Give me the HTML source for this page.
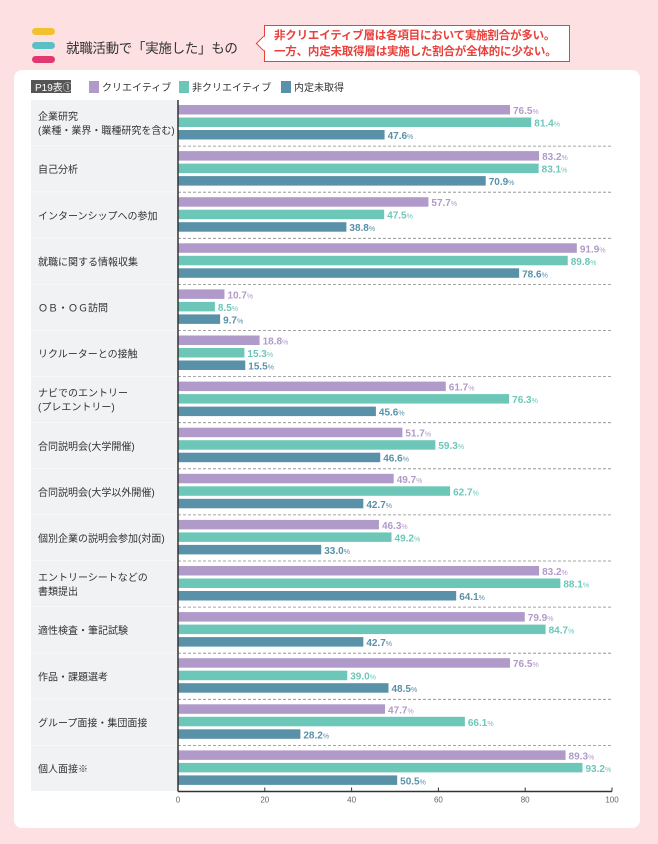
<!DOCTYPE html>
<html><head><meta charset="utf-8">
<style>
body{margin:0;width:658px;height:844px;background:#fde0e1;font-family:"Liberation Sans","Noto Sans CJK JP",sans-serif;position:relative;overflow:hidden}
.abs{position:absolute}
</style></head><body>
<div class="abs" style="left:32px;top:28px">
<div style="width:23px;height:7px;border-radius:4px;background:#f2c12e;margin-bottom:7px"></div>
<div style="width:23px;height:7px;border-radius:4px;background:#5bbfc6;margin-bottom:7px"></div>
<div style="width:23px;height:7px;border-radius:4px;background:#e0396f"></div></div>
<div class="abs" style="left:66px;top:37px;font-size:13.5px;letter-spacing:-0.3px;color:#333;white-space:nowrap">就職活動で「実施した」もの</div>
<div class="abs" style="left:264px;top:25px;width:306px;height:37px;border:1.5px solid #e8413c;background:#fff;color:#e8413c;font-weight:bold;font-size:11.5px;line-height:16px;padding:2px 0 0 9px;box-sizing:border-box;white-space:nowrap;letter-spacing:-0.2px">非クリエイティブ層は各項目において実施割合が多い。<br>一方、内定未取得層は実施した割合が全体的に少ない。</div>
<div class="abs" style="left:258px;top:38px;width:10px;height:10px;background:#fff;border-left:1.5px solid #e8413c;border-bottom:1.5px solid #e8413c;transform:rotate(45deg)"></div>
<div class="abs" style="left:14px;top:70px;width:626px;height:758px;background:#fff;border-radius:8px"></div>
<svg class="abs" style="left:0;top:0" width="658" height="844" id="chart"></svg>
<script>
const categories=[["企業研究","(業種・業界・職種研究を含む)"],["自己分析"],["インターンシップへの参加"],["就職に関する情報収集"],["ＯＢ・ＯＧ訪問"],["リクルーターとの接触"],["ナビでのエントリー","(プレエントリー)"],["合同説明会(大学開催)"],["合同説明会(大学以外開催)"],["個別企業の説明会参加(対面)"],["エントリーシートなどの","書類提出"],["適性検査・筆記試験"],["作品・課題選考"],["グループ面接・集団面接"],["個人面接※"]];
const creative=[76.5,83.2,57.7,91.9,10.7,18.8,61.7,51.7,49.7,46.3,83.2,79.9,76.5,47.7,89.3];
const nonCreative=[81.4,83.1,47.5,89.8,8.5,15.3,76.3,59.3,62.7,49.2,88.1,84.7,39.0,66.1,93.2];
const noOffer=[47.6,70.9,38.8,78.6,9.7,15.5,45.6,46.6,42.7,33.0,64.1,42.7,48.5,28.2,50.5];
const ticks=[0,20,40,60,80,100];
const seriesNames=["クリエイティブ","非クリエイティブ","内定未取得"];
const colors=["#b09ac9","#6dc7b8","#5891a8"];
const NS="http://www.w3.org/2000/svg",svg=document.getElementById('chart');
const X0=178,X1=612,Y0=100,RH=46.1;
const x=v=>X0+(X1-X0)*v/100;
function el(t,a,p){const e=document.createElementNS(NS,t);for(const k in a)e.setAttribute(k,a[k]);(p||svg).appendChild(e);return e;}
const tag=el('rect',{x:31,y:80,width:40,height:13,fill:'#555'});


el('text',{x:35,y:91,'font-size':10,fill:'#fff'}).textContent='P19表①';
let lx=89;
seriesNames.forEach((n,i)=>{
 const g=el('g',{});
 
 
 el('rect',{x:lx,y:81,width:10,height:12,fill:colors[i]},g);
 const t=el('text',{x:lx+13,y:91,'font-size':10,fill:'#333'},g);t.textContent=n;
 lx+=[90,102,0][i];
});
const series=[creative,nonCreative,noOffer];
categories.forEach((c,i)=>{
 const top=Y0+RH*i;
 const bg=el('rect',{x:31,y:top,width:147,height:RH-0.5,fill:'#f1f2f4'});
 
 
 const mid=top+RH/2;
 c.forEach((line,j)=>{
  const t=el('text',{x:38,y:mid+4+(j-(c.length-1)/2)*14,'font-size':10,fill:'#333'});
  t.textContent=line;
  
  
 });
 if(i>0){el('line',{x1:X0,x2:X1,y1:top,y2:top,stroke:'#888','stroke-dasharray':'3,2','stroke-width':0.8});}
 series.forEach((s,k)=>{
  const y=top+5+k*12.5,v=s[i];
  const b=el('rect',{x:X0,y:y,width:x(v)-X0,height:9.5,fill:colors[k]});
  
  
  const t=el('text',{x:x(v)+3,y:y+9,'font-size':10,'font-weight':'bold',fill:colors[k]});
  t.textContent=v.toFixed(1);
  const ts=el('tspan',{'font-size':7,'font-weight':'normal'},t);ts.textContent='%';
 });
});
const yb=Y0+RH*categories.length;
el('line',{x1:X0,x2:X0,y1:Y0,y2:yb,stroke:'#333','stroke-width':1.5});
el('line',{x1:X0,x2:X1,y1:yb,y2:yb,stroke:'#333','stroke-width':1.5});
ticks.forEach(v=>{
 el('line',{x1:x(v),x2:x(v),y1:yb,y2:yb-4,stroke:'#333'});
 const t=el('text',{x:x(v),y:yb+11,'font-size':8,fill:'#666','text-anchor':'middle'});
 t.textContent=v;
 
 
});
</script>
</body></html>
